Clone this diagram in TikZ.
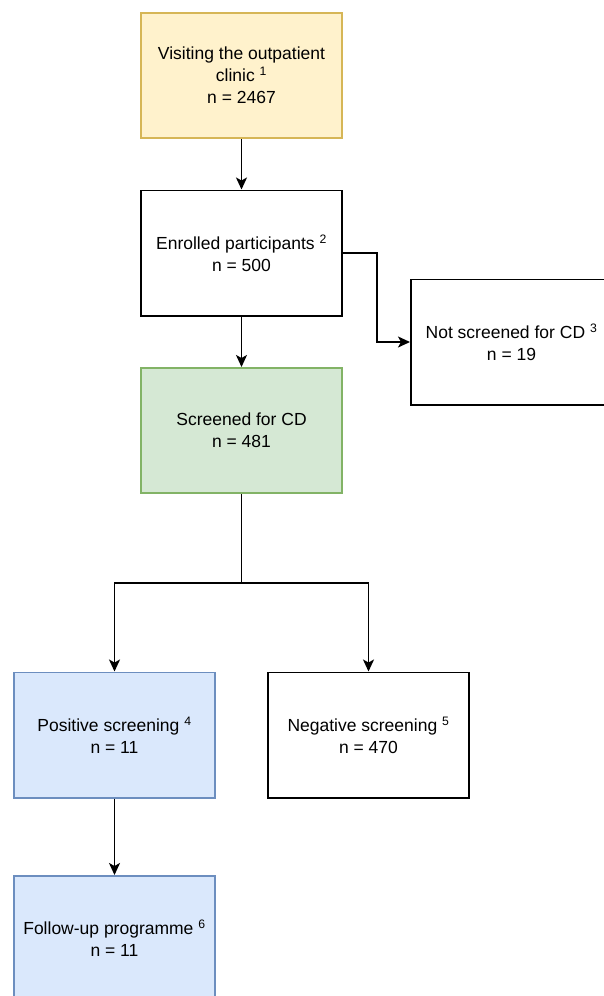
\documentclass[tikz,border=0pt]{standalone}
\usepackage{fontspec}
\setmainfont{Liberation Sans}
\usetikzlibrary{arrows.meta}
\definecolor{jaune}{HTML}{FFF2CC}
\definecolor{jauneBord}{HTML}{D6B656}
\definecolor{vert}{HTML}{D5E8D4}
\definecolor{vertBord}{HTML}{82B366}
\definecolor{bleu}{HTML}{DAE8FC}
\definecolor{bleuBord}{HTML}{6C8EBF}

\begin{document}
\begin{tikzpicture}[x=1pt,y=1pt]
    % Styles (MODIFIABLES)
    \tikzstyle{fleche}=[-{Stealth[length=12pt,width=11pt,inset=3pt]},line width=1.6pt]
    \tikzstyle{boite}=[fill=white,draw=black,line width=1.6pt,rectangle,align=center,
        minimum width=201.4pt,minimum height=125.4pt,inner sep=0pt,
        font=\fontsize{17.5}{22}\selectfont]
    \tikzstyle{boiteJ}=[boite,fill=jaune,draw=jauneBord]
    \tikzstyle{boiteV}=[boite,fill=vert,draw=vertBord]
    \tikzstyle{boiteB}=[boite,fill=bleu,draw=bleuBord]
    % Cadre
    \useasboundingbox (0,0) rectangle (603,-996);
    % Noeuds
    \node[boiteJ] (R) at (241.5,-75.5) {Visiting the outpatient\\clinic \textsuperscript{1}\\n = 2467};
    \node[boite] (Ra) at (241.5,-253) {Enrolled participants \textsuperscript{2}\\n = 500};
    \node[boite] (Rab) at (511.5,-342) {Not screened for CD \textsuperscript{3}\\n = 19};
    \node[boiteV] (Raa) at (241.5,-430.5) {Screened for CD\\n = 481};
    \node[boiteB] (Raaa) at (114.5,-735) {Positive screening \textsuperscript{4}\\n = 11};
    \node[boite] (Raab) at (368.5,-735) {Negative screening \textsuperscript{5}\\n = 470};
    \node[boiteB] (Raaaa) at (114.5,-938.5) {Follow-up programme \textsuperscript{6}\\n = 11};
    % Arcs
    \draw[fleche] (R)--(Ra) ;
    \draw[fleche] (Ra.east) -- ++(34,0) |- (Rab.west) ;
    \draw[fleche] (Ra)--(Raa) ;
    \draw[fleche] (Raa.south) -- ++(0,-89) -| (Raaa.north) ;
    \draw[fleche] (Raa.south) -- ++(0,-89) -| (Raab.north) ;
    \draw[fleche] (Raaa)--(Raaaa) ;
  \end{tikzpicture}
\end{document}
